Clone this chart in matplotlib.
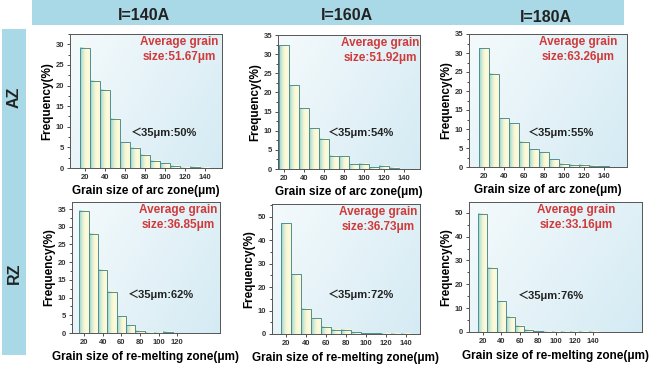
import numpy as np
import matplotlib.pyplot as plt
from matplotlib.colors import LinearSegmentedColormap
from matplotlib.patches import Rectangle

plt.rcParams['font.family'] = ['Liberation Sans', 'Noto Sans CJK SC', 'DejaVu Sans']

# bin centres (um) and frequencies (%)
centers = [20, 30, 40, 50, 60, 70, 80, 90, 100, 110, 120, 130, 140]
az_140 = [29.2, 21.2, 19.0, 12.0, 6.3, 4.9, 3.2, 1.7, 1.2, 0.6, 0.1, 0.3, 0.05]
az_160 = [32.3, 21.9, 15.9, 10.6, 7.9, 3.4, 3.3, 1.2, 1.4, 0.5, 0.8, 0.3, 0.0]
az_180 = [31.2, 24.5, 12.8, 11.5, 6.6, 4.7, 3.9, 2.1, 0.9, 0.6, 0.6, 0.3, 0.2]
rz_140 = [34.5, 28.0, 17.9, 11.6, 4.8, 2.2, 0.6, 0.1, 0.1, 0.3]
rz_160 = [47.3, 25.6, 10.8, 6.8, 3.0, 1.9, 1.9, 0.7, 0.3, 0.4, 0.1, 0.05, 0.05]
rz_180 = [49.6, 26.9, 12.9, 6.4, 2.6, 0.9, 0.4, 0.2, 0.1, 0.1, 0.05, 0.05, 0.05]

avg_size = ['51.67', '51.92', '63.26', '36.85', '36.73', '33.16']
below_35 = ['50', '54', '55', '62', '72', '76']
currents = ['I=140A', 'I=160A', 'I=180A']
zones = ['AZ', 'RZ']
xlabels = ['Grain size of arc zone(μm)', 'Grain size of re-melting zone(μm)']

W, H = 650, 373
fig = plt.figure(figsize=(W / 100, H / 100), dpi=100)

def px_rect(x0, y0, x1, y1):
    return [x0 / W, 1 - y1 / H, (x1 - x0) / W, (y1 - y0) / H]

band = '#a9d8e6'
fig.add_artist(Rectangle((32 / W, 1 - 25 / H), (624 - 32) / W, 25 / H,
                         transform=fig.transFigure, color=band, lw=0))
fig.add_artist(Rectangle((2 / W, 1 - 355 / H), 24 / W, (355 - 29) / H,
                         transform=fig.transFigure, color=band, lw=0))
for name, x, y in zip(currents, [144, 347, 546], [15, 15, 17]):
    fig.text(x / W, 1 - y / H, name, ha='center', va='center',
             fontsize=11.5, fontweight='bold', color='#222222')
for name, y in zip(zones, [97, 273]):
    fig.text(14 / W, 1 - y / H, name, ha='center', va='center', rotation=90,
             fontsize=11.5, fontweight='bold', color='#222222')

bar_cmap = LinearSegmentedColormap.from_list(
    'bar', ['#86cfcf', '#c9e9d8', '#f6f5cf', '#fdfbdc', '#fcf8d4'])
bg_cmap = LinearSegmentedColormap.from_list('bg', ['#f8fcfd', '#d3eaf3'])
gx, gy = np.meshgrid(np.linspace(0, 1, 60), np.linspace(1, 0, 60))
bg = np.clip(0.1 + 0.55 * gx + 0.3 * (1 - gy), 0, 1)
grad = np.linspace(0, 1, 40).reshape(1, -1)

panels = [
    # data, rect(px), xlim, ylim, ystep, xticks, avg x-frac, pct (x,y) frac
    (az_140, (70, 34, 222, 168), (5, 157), (0, 32.5), 5, range(20, 141, 20), 0.72, (0.40, 0.26)),
    (az_160, (278, 35, 420, 169), (14, 156), (0, 35), 5, range(20, 141, 20), 0.72, (0.35, 0.27)),
    (az_180, (469, 34, 627, 167), (5, 163), (0, 35), 5, range(20, 141, 20), 0.69, (0.37, 0.26)),
    (rz_140, (72, 202, 220, 333), (7, 166), (0, 37), 5, range(20, 121, 20), 0.72, (0.38, 0.29)),
    (rz_160, (272, 204, 420, 334), (6, 154), (0, 55.5), 10, range(20, 141, 20), 0.72, (0.38, 0.30)),
    (rz_180, (469, 202, 642, 332), (5, 193), (0, 54.5), 10, range(20, 141, 20), 0.62, (0.28, 0.28)),
]

for i, (vals, r, xl, yl, ystep, xt, avx, (px, py)) in enumerate(panels):
    ax = fig.add_axes(px_rect(*r))
    ax.imshow(bg, cmap=bg_cmap, vmin=0, vmax=1, extent=[0, 1, 0, 1],
              transform=ax.transAxes, aspect='auto', zorder=0, interpolation='bicubic')
    c = centers[:len(vals)]
    for cx, v in zip(c, vals):
        if v > 0:
            ax.imshow(grad, cmap=bar_cmap, extent=(cx - 5, cx + 5, 0, v),
                      aspect='auto', zorder=2, interpolation='bicubic')
    ax.bar(c, vals, width=10, fill=False, edgecolor='#4f8f94', lw=0.7, zorder=3)
    ax.set_xlim(*xl)
    ax.set_ylim(*yl)
    ax.set_xticks(list(xt))
    ax.set_yticks(np.arange(0, yl[1] + 0.01, ystep))
    ax.set_yticks(np.arange(0, yl[1] + 0.01, ystep / 2), minor=True)
    ax.tick_params(axis='both', labelsize=5.5, length=2.5, width=0.6, pad=1.5,
                   colors='#333333')
    ax.tick_params(axis='y', which='minor', length=1.5, width=0.5)
    for lab in ax.get_xticklabels() + ax.get_yticklabels():
        lab.set_fontweight('bold')
    for s in ax.spines.values():
        s.set_color('#555555')
        s.set_linewidth(0.7)
    ax.set_ylabel('Frequency(%)', fontsize=8.5, fontweight='bold', labelpad=2)
    ax.set_xlabel(xlabels[i // 3], fontsize=8.5, fontweight='bold',
                  labelpad=3 if i < 3 else 4)
    ax.text(avx, 0.985, 'Average grain\nsize:' + avg_size[i] + 'μm', transform=ax.transAxes,
            ha='center', va='top', fontsize=8.5, fontweight='bold', color='#d03a3a',
            linespacing=1.3, zorder=5)
    ax.text(px, py, '＜35μm:' + below_35[i] + '%', transform=ax.transAxes,
            ha='left', va='center', fontsize=8, fontweight='bold', color='#222222', zorder=5)

fig.savefig('out.png', dpi=100)
